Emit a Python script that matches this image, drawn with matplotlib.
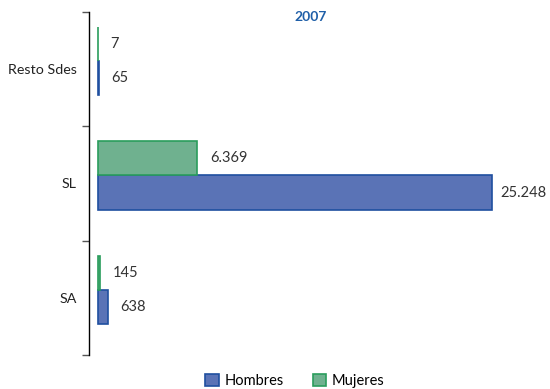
import matplotlib.pyplot as plt
import numpy as np

plt.rcParams["font.family"] = ["Lato", "DejaVu Sans"]

# data (bottom to top)
categories = ["SA", "SL", "Resto Sdes"]
hombres = [638, 25248, 65]
mujeres = [145, 6369, 7]

BLUE = "#5a73b6"
BLUE_EDGE = "#1f4fa0"
GREEN = "#6fb18f"
GREEN_EDGE = "#2a9d5c"


def fmt(v):
    return f"{v:,}".replace(",", ".")


fig = plt.figure(figsize=(5.5, 3.89), dpi=100)
ax = fig.add_axes([89 / 550, 1 - 355 / 389, 451 / 550, 343 / 389])

y = np.arange(len(categories))
h = 0.3
shift = 0.07
bh = ax.barh(y + shift - h / 2, hombres, height=h, color=BLUE, edgecolor=BLUE_EDGE,
             linewidth=1.2, label="Hombres")
bm = ax.barh(y + shift + h / 2, mujeres, height=h, color=GREEN, edgecolor=GREEN_EDGE,
             linewidth=1.2, label="Mujeres")

for bars, vals in ((bh, hombres), (bm, mujeres)):
    for b, v in zip(bars, vals):
        off = 6 if v > 20000 else 9
        ax.annotate(fmt(v), (b.get_width(), b.get_y() + b.get_height() / 2),
                    xytext=(off, 0), textcoords="offset points", ha="left", va="center",
                    fontsize=10.5, color="#333333")

ax.set_xlim(-576, 28300)
ax.set_ylim(-0.5, len(categories) - 0.5)
ax.set_yticks(y)
ax.set_yticklabels(categories, fontsize=10.3, color="#222222")
ax.set_yticks(np.arange(-0.5, len(categories)), minor=True)
ax.tick_params(axis="y", which="major", length=0, pad=9)
ax.tick_params(axis="y", which="minor", length=5, width=1, color="#555555", direction="out")
ax.set_xticks([])
for s in ("top", "right", "bottom"):
    ax.spines[s].set_visible(False)
ax.spines["left"].set_linewidth(1.0)

fig.text(311 / 550, 1 - 17 / 389, "2007", ha="center", va="center", fontsize=10,
         fontweight="bold", color="#1f5fa8")

fig.legend(handles=[bh, bm], labels=["Hombres", "Mujeres"], loc="center",
           bbox_to_anchor=(295 / 550, 1 - 381 / 389), ncol=2, frameon=False,
           fontsize=10.5, handlelength=0.9, handleheight=0.9, columnspacing=2.0,
           handletextpad=0.4)

fig.savefig("out.png", dpi=100)
